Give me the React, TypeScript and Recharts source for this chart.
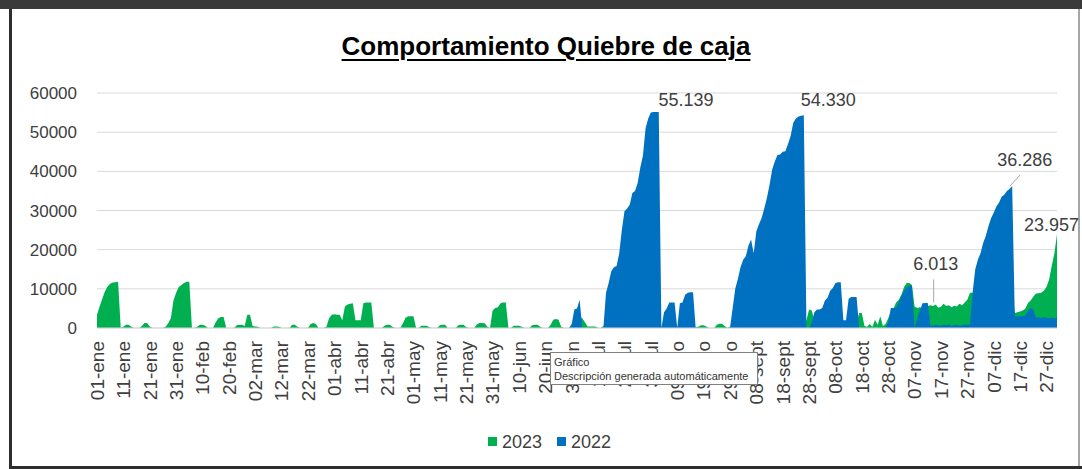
import React from "react";
import { AreaChart, Area, XAxis, YAxis, CartesianGrid, LabelList } from "recharts";

const tickLabels = [
  "01-ene", "11-ene", "21-ene", "31-ene", "10-feb", "20-feb", "02-mar", "12-mar", "22-mar",
  "01-abr", "11-abr", "21-abr", "01-may", "11-may", "21-may", "31-may", "10-jun", "20-jun",
  "30-jun", "10-jul", "20-jul", "30-jul", "09-ago", "19-ago", "29-ago", "08-sept", "18-sept",
  "28-sept", "08-oct", "18-oct", "28-oct", "07-nov", "17-nov", "27-nov", "07-dic", "17-dic", "27-dic",
];

const yTicks = [0, 10000, 20000, 30000, 40000, 50000, 60000];

// 2023 daily values (01-ene .. 31-dic)
const serie2023 = [
  3400, 5500, 7500, 9300, 10600, 11300, 11600, 11700, 11800, 0,
  300, 850, 850, 300, 0, 0, 0, 500, 1300, 1300,
  400, 0, 0, 0, 0, 0, 300, 1200, 2500, 7000,
  9000, 10500, 11000, 11500, 11800, 11800, 0, 0, 300, 850,
  850, 600, 0, 0, 0, 1500, 2500, 2800, 2800, 0,
  0, 0, 0, 700, 850, 850, 500, 3400, 3400, 500,
  400, 300, 0, 0, 0, 0, 0, 400, 400, 300,
  0, 0, 0, 0, 800, 850, 300, 0, 0, 0,
  0, 1000, 1300, 1000, 0, 0, 0, 300, 2500, 3400,
  3500, 3400, 3400, 2000, 5500, 6000, 6200, 6300, 2000, 2000,
  2000, 6300, 6500, 6500, 6500, 0, 0, 0, 0, 600,
  850, 850, 300, 0, 0, 0, 1200, 2600, 3000, 3000,
  3000, 0, 0, 600, 600, 600, 200, 0, 0, 0,
  700, 850, 850, 0, 0, 0, 0, 700, 850, 850,
  200, 0, 0, 0, 900, 1300, 1300, 1200, 300, 0,
  4500, 5100, 5300, 6300, 6500, 6500, 0, 0, 600, 600,
  600, 300, 0, 0, 0, 700, 850, 850, 300, 0,
  0, 0, 800, 2100, 2300, 2100, 300, 0, 0, 0,
  500, 1200, 2800, 2800, 2500, 1500, 400, 400, 400, 400,
  0, 0, 500, 800, 600, 900, 700, 500, 800, 1000,
  700, 600, 900, 800, 500, 700, 600, 800, 900, 700,
  600, 800, 700, 500, 300, 800, 900, 700, 500, 600,
  400, 300, 600, 800, 700, 500, 300, 200, 300, 700,
  700, 400, 0, 0, 0, 800, 1100, 1100, 500, 0,
  300, 600, 900, 1200, 800, 1000, 1500, 1200, 900, 1100,
  1300, 1000, 1200, 1500, 1100, 900, 1300, 1500, 1200, 1000,
  1400, 1200, 1100, 1300, 1600, 1200, 1400, 1500, 1800, 2000,
  4700, 4500, 2000, 1500, 1800, 2000, 1600, 1800, 2200, 2000,
  1800, 2000, 1600, 1500, 1500, 1800, 1600, 1500, 1400, 3800,
  3800, 500, 300, 1000, 300, 2100, 800, 3000, 500, 1000,
  2500, 4000, 5000, 6500, 7200, 8500, 10500, 11500, 11500, 11000,
  5500, 5100, 5300, 5000, 5500, 5600, 5800, 5600, 6013, 5200,
  5400, 6200, 5600, 5800, 5300, 5700, 5500, 6200, 5800, 6500,
  7200, 9000, 9000, 8500, 8800, 9000, 8500, 9000, 9200, 8800,
  9000, 9300, 9000, 8800, 9100, 9000, 8700, 9000, 3800, 4000,
  4200, 4500, 5000, 6400, 7000, 8000, 8800, 8900, 9000, 9500,
  10500, 12300, 15800, 19000, 23957,
];

// 2022 daily values (01-ene .. 31-dic)
const serie2022 = [
  0, 0, 0, 0, 0, 0, 0, 0, 0, 0, 0, 0, 0, 0, 0, 0, 0, 0, 0, 0,
  0, 0, 0, 0, 0, 0, 0, 0, 0, 0, 0, 0, 0, 0, 0, 0, 0, 0, 0, 0,
  0, 0, 0, 0, 0, 0, 0, 0, 0, 0, 0, 0, 0, 0, 0, 0, 0, 0, 0, 0,
  0, 0, 0, 0, 0, 0, 0, 0, 0, 0, 0, 0, 0, 0, 0, 0, 0, 0, 0, 0,
  0, 0, 0, 0, 0, 0, 0, 0, 0, 0, 0, 0, 0, 0, 0, 0, 0, 0, 0, 0,
  0, 0, 0, 0, 0, 0, 0, 0, 0, 0, 0, 0, 0, 0, 0, 0, 0, 0, 0, 0,
  0, 0, 0, 0, 0, 0, 0, 0, 0, 0, 0, 0, 0, 0, 0, 0, 0, 0, 0, 0,
  0, 0, 0, 0, 0, 0, 0, 0, 0, 0, 0, 0, 0, 0, 0, 0, 0, 0, 0, 0,
  0, 0, 0, 0, 0, 0, 0, 0, 0, 0, 0, 0, 0, 0, 0, 0, 0, 0, 0, 0,
  1000, 4700, 5000, 7200, 0, 0, 0, 0, 0, 0,
  0, 0, 0, 9000, 11500, 14500, 15500, 15800, 19000, 25000,
  29800, 30500, 31500, 34500, 35000, 37000, 41000, 44000, 51000, 53500,
  55000, 55139, 55139, 55139, 0, 4000, 5000, 6500, 6500, 6500,
  0, 6300, 6500, 8500, 9000, 9100, 9100, 0, 0, 0,
  0, 0, 0, 0, 0, 0, 0, 0, 0, 0,
  0, 5000, 10000, 12500, 15500, 17400, 18300, 21000, 22600, 19100,
  24700, 26500, 28100, 30500, 33200, 36500, 40500, 42500, 44200, 44300,
  45000, 45100, 47000, 49000, 52400, 53500, 54000, 54200, 54330, 0,
  0, 1500, 4000, 4700, 4700, 5100, 7000, 7700, 9500, 10200,
  11500, 11700, 11700, 2000, 2000, 7500, 7900, 7900, 7900, 0,
  0, 0, 0, 0, 0, 0, 0, 0, 0, 0,
  1500, 5100, 5100, 5100, 6500, 8100, 9500, 10500, 10800, 10800,
  0, 2500, 4500, 6300, 6400, 6400, 700, 600, 800, 700,
  600, 800, 700, 900, 600, 700, 800, 600, 700, 900,
  800, 800, 9000, 15000, 17400, 19100, 21700, 23500, 26000, 28000,
  29400, 31000, 32000, 33500, 34000, 35000, 35500, 36286, 3000, 3000,
  3000, 3000, 3200, 4500, 5100, 4700, 2600, 2800, 2500, 2800,
  2600, 2500, 2700, 2400, 2600,
];

// days (index) that carry a data label
const labels2022 = [211, 268, 347];
const labels2023 = [318, 364];

const data = serie2023.map((v, i) => ({ day: i, s2023: v, s2022: serie2022[i] }));
const xTicks = tickLabels.map((_, i) => i * 10);

const FONT = '"Liberation Sans", Arial, sans-serif';
const GREEN = "#00B050";
const BLUE = "#0070C0";
const TEXT = "#404040";

const fmt = (v: number) => String(v).replace(/\B(?=(\d{3})+(?!\d))/g, ".");

type LabelStyle = { dx: number; dy: number; anchor: "start" | "middle" | "end"; leader?: [number, number, number, number] };

const labelStyles: Record<number, LabelStyle> = {
  211: { dx: 5, dy: -6, anchor: "start" },
  268: { dx: -3, dy: -9, anchor: "start" },
  347: { dx: -15, dy: -20, anchor: "start", leader: [-2, 0, 8, -11] },
  318: { dx: 0, dy: -34, anchor: "middle", leader: [-2, -2, -2, -25] },
  364: { dx: -33, dy: -3, anchor: "start" },
};

const makeLabel = (which: number[]) => (props: any) => {
  const { x, y, value, index } = props;
  if (!which.includes(index)) return null;
  const st = labelStyles[index];
  return (
    <g key={`lbl-${index}`}>
      {st.leader && (
        <line
          x1={x + st.leader[0]}
          y1={y + st.leader[1]}
          x2={x + st.leader[2]}
          y2={y + st.leader[3]}
          stroke="#A6A6A6"
          strokeWidth={1}
        />
      )}
      <text x={x + st.dx} y={y + st.dy} textAnchor={st.anchor} fontSize={18} fill={TEXT} fontFamily={FONT}>
        {fmt(value)}
      </text>
    </g>
  );
};

const XTick = (props: any) => {
  const { x, y, payload } = props;
  const label = tickLabels[Math.round(payload.value / 10)];
  return (
    <g transform={`translate(${x},${y})`}>
      <text transform="rotate(-90)" x={-13} y={0} dy="0.36em" textAnchor="end" fontSize={19} fill={TEXT} fontFamily={FONT}>
        {label}
      </text>
    </g>
  );
};

export default function App() {
  return (
    <div style={{ position: "absolute", left: 0, top: 0, width: 1082, height: 469, background: "#fff", overflow: "hidden", fontFamily: FONT }}>
      {/* frame */}
      <div style={{ position: "absolute", left: 0, top: 0, width: 1082, height: 9, background: "#3a3a3a" }} />
      <div style={{ position: "absolute", left: 9, top: 9, width: 3, height: 460, background: "#2e2e2e" }} />
      <div style={{ position: "absolute", left: 9, top: 466, width: 1073, height: 3, background: "#2e2e2e" }} />
      <div style={{ position: "absolute", left: 1078, top: 9, width: 2, height: 457, background: "#a6a6a6" }} />

      <div
        style={{
          position: "absolute",
          left: 5,
          top: 30,
          width: 1082,
          textAlign: "center",
          fontSize: 26,
          lineHeight: "32px",
          fontWeight: "bold",
          textDecoration: "underline",
          textDecorationThickness: 2,
          textUnderlineOffset: 4,
          color: "#000",
        }}
      >
        Comportamiento Quiebre de caja
      </div>

      <div style={{ position: "absolute", left: 0, top: 0 }}>
        <AreaChart width={1082} height={469} data={data} margin={{ top: 93, right: 25, bottom: 41, left: 0 }}>
          <CartesianGrid vertical={false} stroke="#D9D9D9" strokeWidth={1} />
          <XAxis
            dataKey="day"
            type="number"
            domain={[0, 364]}
            ticks={xTicks}
            interval={0}
            tick={<XTick />}
            tickLine={false}
            tickSize={0}
            tickMargin={0}
            height={100}
            axisLine={{ stroke: "#D9D9D9" }}
          />
          <YAxis
            domain={[0, 60000]}
            ticks={yTicks}
            width={97}
            axisLine={false}
            tickLine={false}
            tickSize={0}
            tickMargin={20}
            tick={{ fontSize: 17, fill: TEXT, fontFamily: FONT }}
          />
          <Area
            type="linear"
            dataKey="s2023"
            name="2023"
            stroke="none"
            fill={GREEN}
            fillOpacity={1}
            isAnimationActive={false}
            dot={false}
            activeDot={false}
          >
            <LabelList dataKey="s2023" content={makeLabel(labels2023)} />
          </Area>
          <Area
            type="linear"
            dataKey="s2022"
            name="2022"
            stroke="none"
            fill={BLUE}
            fillOpacity={1}
            isAnimationActive={false}
            dot={false}
            activeDot={false}
          >
            <LabelList dataKey="s2022" content={makeLabel(labels2022)} />
          </Area>
        </AreaChart>
      </div>

      {/* legend */}
      <div style={{ position: "absolute", left: 488, top: 437, width: 9, height: 9, background: GREEN }} />
      <div style={{ position: "absolute", left: 502, top: 431, fontSize: 18, lineHeight: "22px", color: TEXT }}>2023</div>
      <div style={{ position: "absolute", left: 557, top: 437, width: 9, height: 9, background: BLUE }} />
      <div style={{ position: "absolute", left: 571, top: 431, fontSize: 18, lineHeight: "22px", color: TEXT }}>2022</div>

      {/* overlay note box present in the source picture */}
      <div
        style={{
          position: "absolute",
          left: 550,
          top: 352,
          width: 208,
          height: 33,
          background: "#fff",
          border: "1px solid #808080",
          fontSize: 11,
          lineHeight: "14px",
          color: "#333",
          padding: "2px 0 0 3px",
          boxSizing: "border-box",
          whiteSpace: "nowrap",
          overflow: "hidden",
        }}
      >
        <div>Gráfico</div>
        <div>Descripción generada automáticamente</div>
      </div>
    </div>
  );
}
